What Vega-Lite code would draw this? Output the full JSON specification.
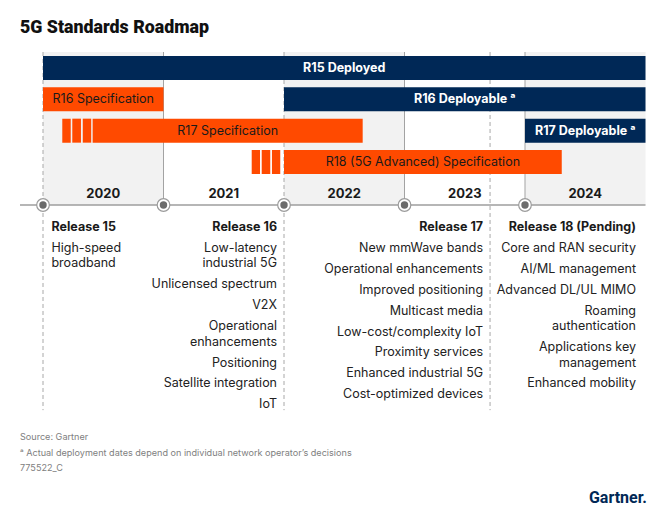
{
  "$schema": "https://vega.github.io/schema/vega-lite/v6.json",
  "width": 667,
  "height": 476,
  "autosize": {"type": "none"},
  "padding": {"top": 40, "left": 0, "right": 0, "bottom": 0},
  "background": "white",
  "title": {"text": "5G Standards Roadmap", "anchor": "start", "frame": "group", "dx": 20, "dy": 18, "offset": 7, "baseline": "alphabetic", "font": "Roboto", "fontSize": 17.8, "fontWeight": 900, "color": "#111111"},
  "config": {"view": {"stroke": null}, "font": "Inter"},
  "datasets": {
    "years": [
      {"year": "2020", "start": 2020, "end": 2021},
      {"year": "2021", "start": 2021, "end": 2022},
      {"year": "2022", "start": 2022, "end": 2023},
      {"year": "2023", "start": 2023, "end": 2024},
      {"year": "2024", "start": 2024, "end": 2025}
    ],
    "bars": [
      {"release": "R15", "label": "R15 Deployed", "phase": "Deployment", "lane": 1, "start": 2020, "end": 2025, "segment": "main"},
      {"release": "R16", "label": "R16 Specification", "phase": "Specification", "lane": 2, "start": 2020, "end": 2021, "segment": "main"},
      {"release": "R16", "label": "R16 Deployable ᵃ", "phase": "Deployment", "lane": 2, "start": 2022, "end": 2025, "segment": "main"},
      {"release": "R17", "label": "", "phase": "Specification", "lane": 3, "start": 2020.16, "end": 2020.23, "segment": "lead-in"},
      {"release": "R17", "label": "", "phase": "Specification", "lane": 3, "start": 2020.243, "end": 2020.315, "segment": "lead-in"},
      {"release": "R17", "label": "", "phase": "Specification", "lane": 3, "start": 2020.33, "end": 2020.40, "segment": "lead-in"},
      {"release": "R17", "label": "R17 Specification", "phase": "Specification", "lane": 3, "start": 2020.412, "end": 2022.653, "segment": "main"},
      {"release": "R17", "label": "R17 Deployable ᵃ", "phase": "Deployment", "lane": 3, "start": 2024, "end": 2025, "segment": "main"},
      {"release": "R18", "label": "", "phase": "Specification", "lane": 4, "start": 2021.732, "end": 2021.801, "segment": "lead-in"},
      {"release": "R18", "label": "", "phase": "Specification", "lane": 4, "start": 2021.815, "end": 2021.886, "segment": "lead-in"},
      {"release": "R18", "label": "", "phase": "Specification", "lane": 4, "start": 2021.90, "end": 2021.969, "segment": "lead-in"},
      {"release": "R18", "label": "R18 (5G Advanced) Specification", "phase": "Specification", "lane": 4, "start": 2022, "end": 2024.305, "segment": "main"}
    ],
    "headers": [
      {"release": "R15", "label": "Release 15"},
      {"release": "R16", "label": "Release 16"},
      {"release": "R17", "label": "Release 17"},
      {"release": "R18", "label": "Release 18 (Pending)"}
    ],
    "features": [
      {"release": "R15", "item": 1, "text": "High-speed\nbroadband"},
      {"release": "R16", "item": 1, "text": "Low-latency\nindustrial 5G"},
      {"release": "R16", "item": 2, "text": "Unlicensed spectrum"},
      {"release": "R16", "item": 3, "text": "V2X"},
      {"release": "R16", "item": 4, "text": "Operational\nenhancements"},
      {"release": "R16", "item": 5, "text": "Positioning"},
      {"release": "R16", "item": 6, "text": "Satellite integration"},
      {"release": "R16", "item": 7, "text": "IoT"},
      {"release": "R17", "item": 1, "text": "New mmWave bands"},
      {"release": "R17", "item": 2, "text": "Operational enhancements"},
      {"release": "R17", "item": 3, "text": "Improved positioning"},
      {"release": "R17", "item": 4, "text": "Multicast media"},
      {"release": "R17", "item": 5, "text": "Low-cost/complexity IoT"},
      {"release": "R17", "item": 6, "text": "Proximity services"},
      {"release": "R17", "item": 7, "text": "Enhanced industrial  5G"},
      {"release": "R17", "item": 8, "text": "Cost-optimized devices"},
      {"release": "R18", "item": 1, "text": "Core and RAN security"},
      {"release": "R18", "item": 2, "text": "AI/ML management"},
      {"release": "R18", "item": 3, "text": "Advanced DL/UL MIMO"},
      {"release": "R18", "item": 4, "text": "Roaming\nauthentication"},
      {"release": "R18", "item": 5, "text": "Applications key\nmanagement"},
      {"release": "R18", "item": 6, "text": "Enhanced mobility"}
    ]
  },
  "resolve": {"scale": {"y": "independent"}},
  "layer": [
    {
      "layer": [
        {
          "data": {"name": "years"},
          "transform": [{"filter": "datum.start % 2 == 0"}],
          "mark": {"type": "rect", "color": "#f2f2f2"},
          "encoding": {
            "x": {"field": "start", "type": "quantitative", "scale": {"domain": [2020, 2025], "range": [43, 645.5], "nice": false, "zero": false, "padding": 0}, "axis": null},
            "x2": {"field": "end"},
            "y": {"datum": 0.489, "type": "quantitative", "scale": {"domain": [1, 4], "range": [28, 122], "nice": false, "zero": false, "padding": 0}, "axis": null},
            "y2": {"datum": 5.373}
          }
        },
        {
          "data": {"values": [{"at": 2021}, {"at": 2023}, {"at": 2024}]},
          "mark": {"type": "rule", "color": "#a3a3a3", "strokeWidth": 1},
          "encoding": {
            "x": {"field": "at", "type": "quantitative"},
            "y": {"datum": 0.489, "type": "quantitative"},
            "y2": {"datum": 5.373}
          }
        },
        {
          "data": {"values": [{"at": 2020}, {"at": 2022}, {"at": 2023.71}]},
          "mark": {"type": "rule", "color": "#a8a8a8", "strokeWidth": 1, "strokeDash": [4, 3]},
          "encoding": {
            "x": {"field": "at", "type": "quantitative"},
            "y": {"datum": 0.489, "type": "quantitative"},
            "y2": {"datum": 11.92}
          }
        },
        {
          "data": {"values": [{}]},
          "mark": {"type": "rule", "color": "#9e9e9e", "strokeWidth": 1.5},
          "encoding": {
            "x": {"datum": 2019.809, "type": "quantitative"},
            "x2": {"datum": 2025},
            "y": {"datum": 5.373, "type": "quantitative"}
          }
        },
        {
          "data": {"name": "bars"},
          "mark": {"type": "bar", "height": 24},
          "encoding": {
            "x": {"field": "start", "type": "quantitative"},
            "x2": {"field": "end"},
            "y": {"field": "lane", "type": "quantitative"},
            "color": {"field": "phase", "type": "nominal", "scale": {"domain": ["Specification", "Deployment"], "range": ["#ff4a00", "#002856"]}, "legend": null}
          }
        },
        {
          "data": {"name": "bars"},
          "transform": [
            {"filter": "datum.segment == 'main' && datum.phase == 'Deployment'"},
            {"calculate": "(datum.start + datum.end) / 2", "as": "mid"}
          ],
          "mark": {"type": "text", "color": "white", "fontWeight": "bold", "fontSize": 12.5, "baseline": "middle"},
          "encoding": {
            "x": {"field": "mid", "type": "quantitative"},
            "y": {"field": "lane", "type": "quantitative"},
            "text": {"field": "label"}
          }
        },
        {
          "data": {"name": "bars"},
          "transform": [
            {"filter": "datum.segment == 'main' && datum.phase == 'Specification'"},
            {"calculate": "(datum.start + datum.end) / 2", "as": "mid"}
          ],
          "mark": {"type": "text", "color": "#1a1a1a", "fontSize": 12.5, "baseline": "middle"},
          "encoding": {
            "x": {"field": "mid", "type": "quantitative"},
            "y": {"field": "lane", "type": "quantitative"},
            "text": {"field": "label"}
          }
        },
        {
          "data": {"name": "years"},
          "transform": [{"calculate": "(datum.start + datum.end) / 2", "as": "mid"}],
          "mark": {"type": "text", "color": "#1a1a1a", "fontSize": 13, "fontWeight": "bold", "baseline": "middle"},
          "encoding": {
            "x": {"field": "mid", "type": "quantitative"},
            "y": {"datum": 5.02, "type": "quantitative"},
            "text": {"field": "year"}
          }
        },
        {
          "data": {"name": "years"},
          "mark": {"type": "point", "shape": "circle", "filled": true, "fill": "white", "stroke": "#9b9b9b", "strokeWidth": 1.2, "size": 160, "opacity": 1},
          "encoding": {
            "x": {"field": "start", "type": "quantitative"},
            "y": {"datum": 5.373, "type": "quantitative"}
          }
        },
        {
          "data": {"name": "years"},
          "mark": {"type": "circle", "color": "#6b6b6b", "size": 55, "opacity": 1},
          "encoding": {
            "x": {"field": "start", "type": "quantitative"},
            "y": {"datum": 5.373, "type": "quantitative"}
          }
        }
      ]
    },
    {
      "layer": [
        {
          "data": {"name": "headers"},
          "transform": [
            {"filter": "datum.release == 'R15'"},
            {"calculate": "datum.release == 'R15' ? 2020.07 : datum.release == 'R16' ? 2021.942 : datum.release == 'R17' ? 2023.652 : 2024.921", "as": "anchor"}
          ],
          "mark": {"type": "text", "align": "left", "baseline": "alphabetic", "fontSize": 12.5, "fontWeight": "bold", "color": "#1a1a1a"},
          "encoding": {
            "x": {"field": "anchor", "type": "quantitative"},
            "y": {"datum": 0, "type": "quantitative", "scale": {"domain": [0, 8], "range": [191, 358.2], "nice": false, "zero": false, "padding": 0}, "axis": null},
            "text": {"field": "label"}
          }
        },
        {
          "data": {"name": "headers"},
          "transform": [
            {"filter": "datum.release != 'R15'"},
            {"calculate": "datum.release == 'R15' ? 2020.07 : datum.release == 'R16' ? 2021.942 : datum.release == 'R17' ? 2023.652 : 2024.921", "as": "anchor"}
          ],
          "mark": {"type": "text", "align": "right", "baseline": "alphabetic", "fontSize": 12.5, "fontWeight": "bold", "color": "#1a1a1a"},
          "encoding": {
            "x": {"field": "anchor", "type": "quantitative"},
            "y": {"datum": 0, "type": "quantitative"},
            "text": {"field": "label"}
          }
        },
        {
          "data": {"name": "features"},
          "transform": [
            {"calculate": "length(split(datum.text, '\\n')) - 1", "as": "wraps"},
            {"window": [{"op": "sum", "field": "wraps", "as": "wrapsThrough"}], "groupby": ["release"], "sort": [{"field": "item", "order": "ascending"}], "frame": [null, 0]},
            {"calculate": "datum.item + (datum.wrapsThrough - datum.wraps) * 0.742", "as": "slot"},
            {"calculate": "datum.release == 'R15' ? 2020.07 : datum.release == 'R16' ? 2021.942 : datum.release == 'R17' ? 2023.652 : 2024.921", "as": "anchor"},
            {"filter": "datum.release == 'R15'"}
          ],
          "mark": {"type": "text", "align": "left", "baseline": "alphabetic", "fontSize": 12.5, "color": "#222222", "lineBreak": "\n", "lineHeight": 15.5},
          "encoding": {
            "x": {"field": "anchor", "type": "quantitative"},
            "y": {"field": "slot", "type": "quantitative"},
            "text": {"field": "text"}
          }
        },
        {
          "data": {"name": "features"},
          "transform": [
            {"calculate": "length(split(datum.text, '\\n')) - 1", "as": "wraps"},
            {"window": [{"op": "sum", "field": "wraps", "as": "wrapsThrough"}], "groupby": ["release"], "sort": [{"field": "item", "order": "ascending"}], "frame": [null, 0]},
            {"calculate": "datum.item + (datum.wrapsThrough - datum.wraps) * 0.742", "as": "slot"},
            {"calculate": "datum.release == 'R15' ? 2020.07 : datum.release == 'R16' ? 2021.942 : datum.release == 'R17' ? 2023.652 : 2024.921", "as": "anchor"},
            {"filter": "datum.release != 'R15'"}
          ],
          "mark": {"type": "text", "align": "right", "baseline": "alphabetic", "fontSize": 12.5, "color": "#222222", "lineBreak": "\n", "lineHeight": 15.5},
          "encoding": {
            "x": {"field": "anchor", "type": "quantitative"},
            "y": {"field": "slot", "type": "quantitative"},
            "text": {"field": "text"}
          }
        }
      ]
    },
    {
      "layer": [
        {
          "data": {"values": [
            {"order": 0, "note": "Source: Gartner"},
            {"order": 1, "note": "ᵃ Actual deployment dates depend on individual network operator’s decisions"},
            {"order": 2, "note": "775522_C"}
          ]},
          "mark": {"type": "text", "align": "left", "baseline": "middle", "fontSize": 9.1, "color": "#808080"},
          "encoding": {
            "x": {"datum": 2019.809, "type": "quantitative"},
            "y": {"field": "order", "type": "quantitative", "scale": {"domain": [0, 2], "range": [397, 428], "nice": false, "zero": false, "padding": 0}, "axis": null},
            "text": {"field": "note"}
          }
        },
        {
          "data": {"values": [{"brand": "Gartner."}]},
          "mark": {"type": "text", "align": "right", "baseline": "middle", "font": "Roboto", "fontSize": 16, "fontWeight": "bold", "color": "#002856"},
          "encoding": {
            "x": {"datum": 2025.012, "type": "quantitative"},
            "y": {"datum": 3.935, "type": "quantitative"},
            "text": {"field": "brand"}
          }
        }
      ]
    }
  ]
}
